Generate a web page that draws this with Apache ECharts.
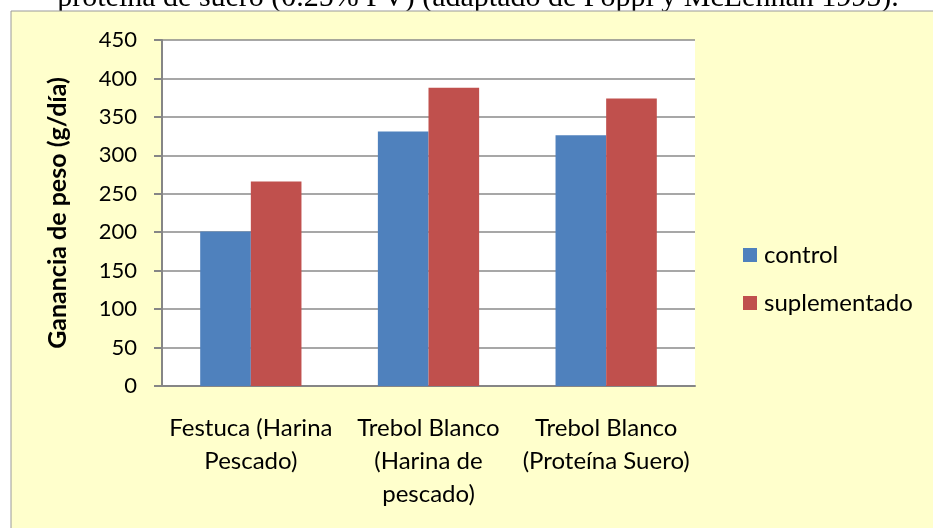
<!DOCTYPE html>
<html>
<head>
<meta charset="utf-8">
<style>
  html, body { margin: 0; padding: 0; background: #fff; }
  #chart { width: 933px; height: 528px; }
</style>
</head>
<body>
<div id="chart"></div>
<script src="https://cdn.jsdelivr.net/npm/echarts@6/dist/echarts.min.js"></script>
<script>
  // data
  var categories = [
    "Festuca (Harina\nPescado)",
    "Trebol Blanco\n(Harina de\npescado)",
    "Trebol Blanco\n(Proteína Suero)"
  ];
  var control = [201, 331, 326];
  var suplementado = [266, 388, 374];
  var caption = "proteína de suero (0.25% PV) (adaptado de Poppi y McLennan 1995).";

  var font = "Lato";
  var chart = echarts.init(document.getElementById("chart"));

  chart.setOption({
    animation: false,
    backgroundColor: "#fff",
    textStyle: { fontFamily: font, color: "#000" },
    graphic: [
      {
        type: "text",
        z: -20,
        x: 478,
        y: 13,
        style: {
          text: caption,
          fontFamily: "Liberation Serif",
          fontSize: 30,
          fill: "#000",
          align: "center",
          verticalAlign: "bottom"
        }
      },
      {
        type: "rect",
        z: -10,
        shape: { x: 11, y: 11, width: 940, height: 540 },
        style: { fill: "#FFFFCC", stroke: "#9a9a9a", lineWidth: 1 }
      }
    ],
    grid: {
      left: 162,
      top: 40,
      right: 238,
      bottom: 142,
      show: true,
      backgroundColor: "#fff",
      borderWidth: 0
    },
    legend: {
      orient: "vertical",
      left: 738,
      top: 238,
      itemWidth: 14,
      itemHeight: 14,
      itemGap: 24,
      icon: "rect",
      textStyle: { fontFamily: font, fontSize: 24, color: "#000", lineHeight: 24, padding: [0, 0, 0, 2] },
      data: ["control", "suplementado"]
    },
    xAxis: {
      type: "category",
      data: categories,
      axisLine: { lineStyle: { color: "#868686", width: 2 } },
      axisTick: { show: false },
      axisLabel: {
        interval: 0,
        margin: 26,
        fontFamily: font,
        fontSize: 24,
        lineHeight: 33,
        color: "#000"
      }
    },
    yAxis: {
      type: "value",
      min: 0,
      max: 450,
      interval: 50,
      name: "Ganancia de peso (g/día)",
      nameLocation: "middle",
      nameGap: 92,
      nameRotate: 90,
      nameTextStyle: { fontFamily: font, fontSize: 25, fontWeight: "bold", color: "#000" },
      axisLine: { show: true, lineStyle: { color: "#868686", width: 2 } },
      axisTick: { show: true, length: 8, lineStyle: { color: "#868686", width: 2 } },
      axisLabel: { margin: 25, fontFamily: font, fontSize: 22, color: "#000" },
      splitLine: { lineStyle: { color: "#8a8a8a", width: 1.5 } }
    },
    series: [
      {
        name: "control",
        type: "bar",
        data: control,
        barGap: "0%",
        barCategoryGap: "43%",
        itemStyle: { color: "#4F81BD" }
      },
      {
        name: "suplementado",
        type: "bar",
        data: suplementado,
        itemStyle: { color: "#C0504D" }
      }
    ]
  });
</script>
</body>
</html>
